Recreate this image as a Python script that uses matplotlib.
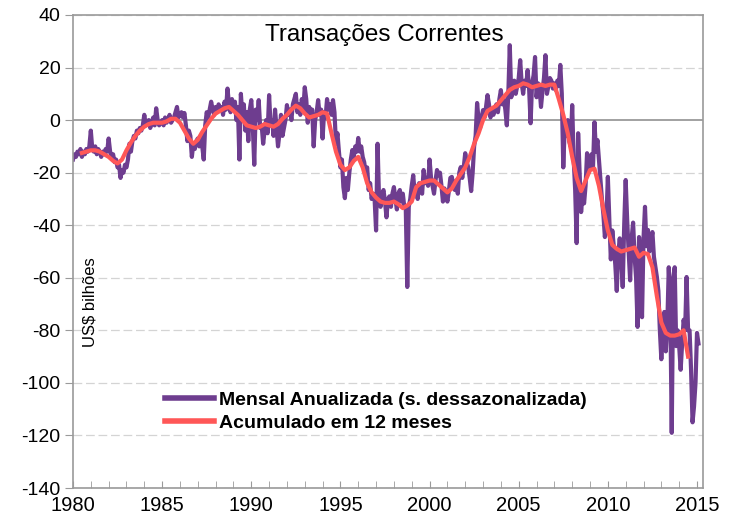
import numpy as np
import matplotlib
matplotlib.use("Agg")
from matplotlib import pyplot as plt

# DATA (US$ bilhões)
# monthly series, annualized, seasonally adjusted - starts Jan 1980
mensal = [
    -15, -13, -14, -12, -13, -11, -14, -12, -13, -11, -12, -10,  # 1980
    -4, -11, -12, -10, -13, -11, -12, -14, -12, -13, -11, -12,  # 1981
    -7, -12, -14, -13, -16, -15, -18, -17, -22, -19, -20, -17,  # 1982
    -18, -15, -9, -12, -8, -6, -7, -4, -5, -3, -4, -2,  # 1983
    2, -2, -1, 0, -3, -1, 1, -2, 4.5, 0, -2, -1,  # 1984
    0, -2, 1, -1, 0, 2, -1, 0, 1, 3, 5, 1,  # 1985
    2, 3, 1, 2.7, -2, -8, -4, -6, -14, -9, -11, -8,  # 1986
    -7, -10, -6, -10, -15, -2, 3, 1, 4, 7, 4, 2,  # 1987
    5, 3, 6, 4, 5, 2, 7, 4, 12, 6, 3, 8,  # 1988
    4, 7, 0, 5, -15, 10, 2, 6, -4, 3, -8, 4,  # 1989
    7.6, -2, -17, 4, 0, 7.6, -3, -2, -9, -4, 0, -5,  # 1990
    9.5, -2, 0, -6, 4, -3, -10, -5, 2, -6, -3, 0,  # 1991
    5.7, 2, 4, 0, 6, 8, 10, 3, 6, 2, 8, 4,  # 1992
    12.5, 8, -1, 5, 2, 4, -10, 0, 3, 7.6, 2, 4,  # 1993
    -7, 3, 1, 8, 4, 6, 2, 7.6, 3, -9, -5, -12,  # 1994
    -18, -15, -25.5, -29.7, -22, -26.6, -20, -15, -11.4, -14, -10, -12,  # 1995
    -6.8, -12, -10, -14, -16, -20, -18, -26.6, -24, -30, -28, -30,  # 1996
    -42, -9, -30, -33, -28, -26.6, -31, -37, -30, -29, -33, -28,  # 1997
    -25.5, -30, -34, -28, -26.6, -31, -28, -33, -34, -63.5, -33, -30,  # 1998
    -25, -21, -27.8, -25, -30, -24, -26, -28, -19, -24, -22, -25,  # 1999
    -15, -22, -25, -28, -23, -19, -21, -20, -25, -31, -26, -28,  # 2000
    -31, -27, -22, -21.6, -25, -26.6, -23, -28, -20, -17.9, -22, -18,  # 2001
    -12.6, -16, -17.9, -22, -27, -20, -10, -6, 6.5, 0, -3, 1,  # 2002
    3.8, 1, 5, 9.5, 6, 1, 4, 2, 4.5, 6, 3, 8,  # 2003
    11.4, 6, 8, 4, -2, 10, 28.5, 8.7, 12, 15, 10, 13,  # 2004
    16, 22.8, 14, 10, 15, 13, 19, 12, -1.2, 14, 17, 24,  # 2005
    8.7, 14, 12.5, 5, 11, 16, 24.7, 10, 13, 16, 15, 12,  # 2006
    14, 11.4, 15, 13, 21, 10, -18, -2, -6, 0, -8, -10,  # 2007
    5.7, -15, -26.6, -46.8, -5, -20, -35, -28, -31.7, -25, -12.6, -20,  # 2008
    -18, -13, -17.9, -0.8, -12, -7.6, -15, -22, -30, -36, -44.5, -38,  # 2009
    -21.6, -38, -53, -42, -48, -55, -65, -50.7, -45, -52, -63.5, -40,  # 2010
    -22.8, -38, -50, -61, -45, -39, -52, -60, -78.7, -44.5, -55, -75,  # 2011
    -45, -33, -48, -41.8, -50, -46, -42.6, -52, -56, -59.7, -65, -80,  # 2012
    -91, -80, -73, -88, -78, -56, -70, -119, -60, -56, -86, -80,  # 2013
    -86, -95, -85, -76, -80, -59.7, -80, -80, -95, -115, -109, -100,  # 2014
    -81, -85,  # 2015
]

# 12-month accumulated, read quarterly - starts mid 1980
acumulado = [
    -12.5, -12,  # 1980
    -11.5, -11.5, -12, -13,  # 1981
    -14, -15.5, -16.5, -15,  # 1982
    -11.5, -8.5, -6, -4,  # 1983
    -2.5, -1.5, -1, -1,  # 1984
    -1, -0.5, 0.5, 0.5,  # 1985
    -1, -4, -7, -9,  # 1986
    -7.5, -4.5, -2, 0.5,  # 1987
    2.5, 3.5, 4.5, 5,  # 1988
    3.5, 2, 0, -2,  # 1989
    -2.5, -3, -2.5, -1.5,  # 1990
    -2, -2.5, -1.5, 0.5,  # 1991
    2, 4, 5.5, 4.5,  # 1992
    2.5, 1, 1.5, 2,  # 1993
    3, 2.5, -5, -12,  # 1994
    -17, -19, -18, -15.5,  # 1995
    -14, -18, -24, -27.5,  # 1996
    -29.5, -31, -31.5, -31.5,  # 1997
    -31, -32, -33.5, -32.5,  # 1998
    -31, -25.5, -24, -23.5,  # 1999
    -23, -23, -24.5, -26,  # 2000
    -27.5, -26, -23, -20.5,  # 2001
    -18, -14, -9, -5,  # 2002
    0, 3.5, 4.5, 5.5,  # 2003
    7.5, 9.5, 11.5, 12.5,  # 2004
    13, 14, 13.5, 12.5,  # 2005
    13, 13.5, 13, 13.5,  # 2006
    13.5, 8, 2, -5,  # 2007
    -14, -22, -27, -23,  # 2008
    -19, -18.5, -25, -34,  # 2009
    -42, -47.5, -49, -50,  # 2010
    -49.5, -49, -48.5, -52,  # 2011
    -50.5, -51, -56, -67,  # 2012
    -77, -81, -82, -82,  # 2013
    -81.5, -80, -90,  # 2014
]

yticks = [40, 20, 0, -20, -40, -60, -80, -100, -120, -140]
xticks = [1980, 1985, 1990, 1995, 2000, 2005, 2010, 2015]

# X POSITIONS (decimal years)
x_mensal = 1980 + np.arange(len(mensal)) / 12
x_acum = 1980.5 + np.arange(len(acumulado)) * 0.25

plt.rcParams["font.family"] = ["Liberation Sans", "DejaVu Sans"]
plt.rcParams["axes.unicode_minus"] = False

# FIGURE
fig = plt.figure(figsize=(7.35, 5.22), dpi=100)
ax = fig.add_axes([0.0993, 0.0651, 0.857, 0.9062])

gray = "#9a9a9a"
for v in yticks:
    if v == 0:
        ax.axhline(0, color=gray, lw=1.3, zorder=1)
    else:
        ax.axhline(v, color="#d4d4d4", lw=0.9, ls=(0, (7, 3)), zorder=1)

ax.plot(x_mensal, mensal, color="#6e3d8f", lw=3.0, solid_joinstyle="round",
        label="Mensal Anualizada (s. dessazonalizada)", zorder=2)
ax.plot(x_acum, acumulado, color="#ff5757", lw=3.0, solid_joinstyle="round",
        label="Acumulado em 12 meses", zorder=3)

ax.set_xlim(1980, 2015.33)
ax.set_ylim(-140, 40)
ax.set_yticks(yticks)
ax.set_xticks(xticks)
ax.set_xticks(np.arange(1980, 2016), minor=True)

for s in ax.spines.values():
    s.set_color(gray)
    s.set_linewidth(1.2)

ax.tick_params(axis="y", direction="out", length=6, color=gray, labelsize=14,
               pad=3)
ax.tick_params(axis="x", which="both", direction="in", length=5, color=gray,
               labelsize=14.5, pad=6)

ax.text(0.495, 0.958, "Transações Correntes", transform=ax.transAxes,
        ha="center", va="center", fontsize=17.5)
ax.text(0.027, 0.393, "US$ bilhões", transform=ax.transAxes, rotation=90,
        ha="center", va="center", fontsize=12)

leg = ax.legend(loc="upper left", bbox_to_anchor=(0.146, 0.205), frameon=False,
                borderaxespad=0, borderpad=0, handlelength=2.5,
                handletextpad=0.3, labelspacing=0.3,
                prop={"weight": "bold", "size": 14})
for h in leg.get_lines():
    h.set_linewidth(4.0)

fig.savefig("out.png", dpi=100)
